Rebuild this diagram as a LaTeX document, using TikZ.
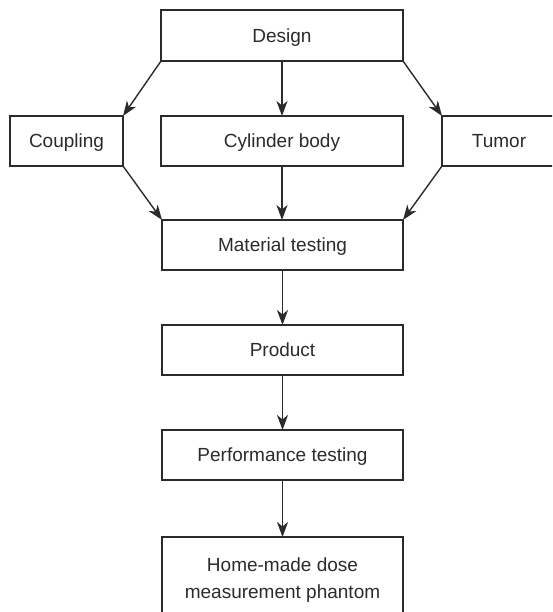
\documentclass[tikz,border=0pt]{standalone}
\usepackage{fontspec}
\setmainfont{Liberation Sans}
\usetikzlibrary{arrows.meta}
\definecolor{ink}{HTML}{2B2B2B}
\tikzset{
  box/.style={draw=ink, line width=1.4pt, text=ink, inner sep=0pt, outer sep=0pt,
    font=\fontsize{19}{27}\selectfont, align=center},
  one/.style={box, text height=18pt, text depth=4.2pt},
  link/.style={draw=ink, line width=1.4pt, -{Stealth[length=15pt, width=11pt, inset=4.5pt]}}
}
\begin{document}
\begin{tikzpicture}[x=1pt, y=-1pt]
\useasboundingbox (0,0) rectangle (552,612);
\clip (0,0) rectangle (552,612);
\node[one, minimum width=242pt, minimum height=51pt] (design) at (282,35.5) {Design};
\node[one, minimum width=113pt, minimum height=50pt] (coupling) at (66.5,141) {Coupling};
\node[one, minimum width=242pt, minimum height=50pt] (cylinder) at (282,141) {Cylinder body};
\node[one, minimum width=114pt, minimum height=50pt] (tumor) at (499,141) {Tumor};
\node[one, minimum width=241pt, minimum height=50pt] (material) at (282.5,245) {Material testing};
\node[one, minimum width=241pt, minimum height=50pt] (product) at (282.5,350) {Product};
\node[one, minimum width=241pt, minimum height=50pt] (perf) at (282.5,455) {Performance testing};
\node[box, minimum width=241pt, minimum height=86pt] (home) at (282.5,580) {Home-made dose\\measurement phantom};
\draw[link] (design.south west) -- (coupling.north east);
\draw[link] (design.south) -- (cylinder.north);
\draw[link] (design.south east) -- (tumor.north west);
\draw[link] (coupling.south east) -- (material.north west);
\draw[link] (cylinder.south) -- (cylinder.south |- material.north);
\draw[link] (tumor.south west) -- (material.north east);
\draw[link] (material.south) -- (product.north);
\draw[link] (product.south) -- (perf.north);
\draw[link] (perf.south) -- (home.north);
\end{tikzpicture}
\end{document}
